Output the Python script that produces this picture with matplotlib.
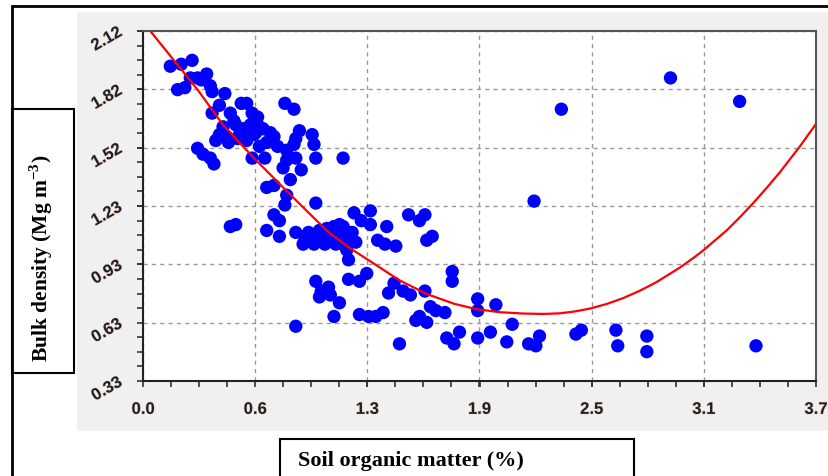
import numpy as np
import matplotlib
matplotlib.use("Agg")
import matplotlib.pyplot as plt
from matplotlib.patches import Rectangle
from matplotlib.ticker import AutoMinorLocator, FixedLocator
import matplotlib.patheffects as pe

plt.rcParams["mathtext.fontset"] = "custom"
plt.rcParams["mathtext.rm"] = "Liberation Serif:bold"
plt.rcParams["mathtext.bf"] = "Liberation Serif:bold"

# soil organic matter (%) and bulk density (Mg m-3)
som = [0.15, 0.21, 0.27, 0.19, 0.23, 0.26, 0.30, 0.32, 0.37, 0.38,
       0.45, 0.42, 0.38, 0.54, 0.57, 0.78, 0.83, 0.48, 0.51, 0.44,
       0.42, 0.40, 0.46, 0.30, 0.33, 0.39, 0.37, 0.53, 0.59, 0.63,
       0.64, 0.61, 0.57, 0.60, 0.67, 0.64, 0.72, 0.74, 0.79, 0.83,
       0.86, 0.84, 0.93, 0.94, 0.95, 0.79, 0.77, 0.84, 0.87, 0.81,
       1.10, 0.68, 0.72, 0.79, 0.78, 0.95, 0.72, 0.75, 0.48, 0.51,
       0.68, 0.75, 0.84,
       0.50, 0.55, 0.62, 0.66, 0.70, 0.47, 0.52, 0.35, 0.68, 0.60,
       0.89, 0.92, 0.95, 0.97, 1.00, 1.03, 1.05, 1.08, 1.11, 1.14,
       1.10, 1.17, 1.12, 1.13, 1.01, 0.94, 0.88, 1.08, 1.06, 1.16,
       1.20, 1.25, 1.25, 1.29, 1.34, 1.33, 1.39, 1.46, 1.52, 1.55,
       1.56, 1.59, 0.91, 0.99,
       1.02, 1.06, 1.10, 0.97, 1.15,
       0.95, 0.98, 1.02, 0.97, 1.03, 1.08, 1.05, 0.84, 1.13, 1.19,
       1.23, 1.38, 1.35, 1.43, 1.47, 1.55, 1.58, 1.61, 1.66, 1.19,
       1.24, 1.28, 1.32, 1.50, 1.52, 1.56, 1.70, 1.70, 1.84, 1.84,
       1.94, 2.03, 1.41, 1.67, 1.71, 1.74, 1.84, 1.91, 2.00, 2.12,
       2.16, 2.18, 2.15,
       2.30, 2.90, 3.28, 2.38, 2.41, 2.60, 2.61, 2.77, 2.77, 3.37]
bd = [1.94, 1.95, 1.97, 1.82, 1.83, 1.88, 1.88, 1.87, 1.84, 1.81,
      1.80, 1.74, 1.70, 1.75, 1.75, 1.75, 1.72, 1.70, 1.64, 1.63,
      1.59, 1.56, 1.58, 1.52, 1.49, 1.44, 1.47, 1.59, 1.64, 1.68,
      1.63, 1.59, 1.56, 1.47, 1.47, 1.53, 1.58, 1.53, 1.51, 1.54,
      1.61, 1.57, 1.59, 1.54, 1.47, 1.46, 1.42, 1.47, 1.41, 1.36,
      1.47, 1.32, 1.33, 1.28, 1.23, 1.24, 1.18, 1.15, 1.12, 1.13,
      1.10, 1.07, 1.09,
      1.66, 1.62, 1.60, 1.62, 1.60, 1.55, 1.57, 1.90, 1.55, 1.70,
      1.05, 1.07, 1.08, 1.05, 1.03, 1.07, 1.12, 1.13, 1.10, 1.07,
      1.03, 1.04, 1.00, 0.95, 1.11, 1.03, 1.03, 1.07, 1.03, 1.19,
      1.15, 1.20, 1.13, 1.05, 1.12, 1.03, 1.02, 1.18, 1.15, 1.18,
      1.05, 1.07, 1.09, 1.07,
      1.09, 1.10, 1.12, 1.10, 1.09,
      0.84, 0.79, 0.81, 0.76, 0.77, 0.73, 0.66, 0.61, 0.85, 0.84,
      0.88, 0.83, 0.78, 0.79, 0.77, 0.79, 0.71, 0.69, 0.68, 0.67,
      0.66, 0.66, 0.68, 0.64, 0.66, 0.63, 0.89, 0.84, 0.75, 0.69,
      0.72, 0.62, 0.52, 0.55, 0.52, 0.58, 0.55, 0.58, 0.53, 0.52,
      0.51, 0.56, 1.25,
      1.72, 1.88, 1.76, 0.57, 0.59, 0.59, 0.51, 0.56, 0.48, 0.51]

# fitted curve, points
fit_x = [0.04, 0.17, 0.30, 0.44, 0.61, 0.77, 0.90, 1.01, 1.12, 1.27,
         1.41, 1.56, 1.71, 1.83, 1.96, 2.09, 2.20, 2.29, 2.37, 2.46,
         2.55, 2.64, 2.73, 2.82, 2.95, 3.03, 3.08, 3.21, 3.28, 3.36,
         3.43, 3.50, 3.56, 3.61, 3.70]
fit_y = [2.12, 1.97, 1.82, 1.64, 1.47, 1.32, 1.20, 1.10, 1.02, 0.93,
         0.845, 0.775, 0.725, 0.698, 0.682, 0.675, 0.673, 0.676, 0.685, 0.701,
         0.724, 0.754, 0.791, 0.834, 0.909, 0.962, 0.998, 1.101, 1.166, 1.245,
         1.319, 1.396, 1.468, 1.528, 1.645]

xticks = [0.0, 0.6167, 1.2333, 1.85, 2.4667, 3.0833, 3.7]
xlabels = ["0.0", "0.6", "1.3", "1.9", "2.5", "3.1", "3.7"]
yticks = [0.33, 0.6283, 0.9267, 1.225, 1.5233, 1.8217, 2.12]
ylabels = ["0.33", "0.63", "0.93", "1.23", "1.52", "1.82", "2.12"]

W, H = 829, 477
fig = plt.figure(figsize=(W / 100, H / 100), dpi=100)
fig.patch.set_facecolor("white")


def fx(x):
    return x / W


def fy(y):
    return 1 - y / H


def box(x0, y0, x1, y1, lw=1.5, fc="none", z=1):
    fig.add_artist(Rectangle((fx(x0), fy(y1)), fx(x1) - fx(x0), fy(y0) - fy(y1),
                             transform=fig.transFigure, fill=(fc != "none"),
                             facecolor=fc, edgecolor="black" if fc == "none" else "none",
                             linewidth=lw, zorder=z))


# outer frame, grey panel, label boxes
box(12, 7, 900, 600, lw=2)
box(77, 13, 829, 432, lw=0, fc="#f0f0f0", z=0)
box(12, 110, 74, 374, lw=1.5)
box(280, 440, 634, 600, lw=1.5)

ax = fig.add_axes([fx(143), fy(382), fx(816) - fx(143), fy(32) - fy(382)])
ax.set_facecolor("white")
ax.set_zorder(2)

ax.scatter(som, bd, s=92, color="#0000ff", edgecolors="none", zorder=3)
ax.plot(fit_x, fit_y, color="#ff0000", lw=1.6, zorder=4, solid_joinstyle="round")

ax.set_xlim(0, 3.7)
ax.set_ylim(0.33, 2.12)
ax.xaxis.set_major_locator(FixedLocator(xticks))
ax.yaxis.set_major_locator(FixedLocator(yticks))
ax.xaxis.set_minor_locator(AutoMinorLocator(4))
ax.yaxis.set_minor_locator(AutoMinorLocator(4))

halo = [pe.withStroke(linewidth=0.8, foreground="#f0d0a0")]
ax.set_xticklabels(xlabels, fontsize=12, fontweight="bold", color="#1e1e3c",
                   family="Liberation Sans", path_effects=halo)
ax.set_yticklabels(ylabels, fontsize=12, fontweight="bold", color="#1e1e3c",
                   family="Liberation Sans", rotation=30, ha="right",
                   va="center", rotation_mode="anchor", path_effects=halo)
ax.tick_params(which="both", direction="out", length=4, width=1.2, color="#333333")
ax.tick_params(axis="x", pad=11)
ax.tick_params(axis="y", pad=12)

ax.grid(True, which="major", color="#999999", linestyle=(0, (3, 3)), lw=1.0)
ax.set_axisbelow(True)
for side in ["left", "bottom"]:
    ax.spines[side].set_color("#222222")
    ax.spines[side].set_linewidth(1.5)
for side in ["top", "right"]:
    ax.spines[side].set_color("#555555")
    ax.spines[side].set_linewidth(1.5)

fig.text(fx(41), fy(258), "Bulk density (Mg m$^{-3}$)", rotation=90,
         ha="center", va="center", fontsize=15.5, fontweight="bold",
         family="Liberation Serif")
fig.text(fx(411), fy(461), "Soil organic matter (%)", ha="center", va="center",
         fontsize=16, fontweight="bold", family="Liberation Serif")

fig.savefig("out.png", dpi=100)
